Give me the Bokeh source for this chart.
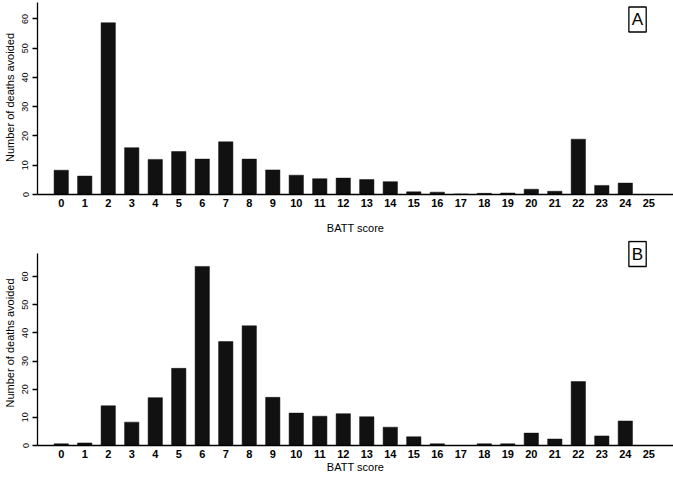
from bokeh.plotting import figure
from bokeh.layouts import column
from bokeh.models import Range1d, FixedTicker, Label
from bokeh.embed import file_html
from bokeh.resources import INLINE

scores = list(range(26))
score_labels = [str(s) for s in scores]
deaths_a = [8.3, 6.3, 58.7, 16.0, 12.0, 14.7, 12.1, 18.0, 12.1, 8.4, 6.6, 5.4, 5.6,
            5.1, 4.4, 0.9, 0.8, 0.2, 0.4, 0.5, 1.8, 1.1, 18.9, 3.1, 3.9, 0.0]
deaths_b = [0.6, 0.9, 14.1, 8.3, 17.0, 27.4, 63.6, 36.9, 42.5, 17.1, 11.5, 10.4, 11.3,
            10.2, 6.5, 3.1, 0.6, 0.0, 0.6, 0.6, 4.4, 2.3, 22.7, 3.4, 8.7, 0.0]
y_ticks = [0, 10, 20, 30, 40, 50, 60]
panel_names = ["A", "B"]

FONT = "Liberation Sans"
BAR = "#111111"


def make_panel(values, name, height, y_end, axis_top, bottom, xlabel_standoff, box_y):
    p = figure(width=673, height=height, output_backend="svg", toolbar_location=None,
               x_range=Range1d(-1.01, 26.05), y_range=Range1d(0, y_end),
               min_border_left=37, min_border_right=0, min_border_top=0,
               min_border_bottom=bottom, outline_line_color=None)
    p.vbar(x=scores, top=values, width=0.61, bottom=0, fill_color=BAR, line_color=BAR,
           line_width=0.5)
    p.xgrid.visible = False
    p.ygrid.visible = False

    xa = p.xaxis[0]
    xa.ticker = FixedTicker(ticks=scores)
    xa.major_label_overrides = {s: l for s, l in zip(scores, score_labels)}
    xa.major_tick_out = 0
    xa.major_tick_in = 0
    xa.minor_tick_out = 0
    xa.minor_tick_in = 0
    xa.axis_line_color = "black"
    xa.axis_line_width = 1.3
    xa.major_label_text_font = FONT
    xa.major_label_text_font_style = "bold"
    xa.major_label_text_font_size = "11px"
    xa.major_label_text_color = "black"
    xa.major_label_standoff = 4
    xa.axis_label = "BATT score"
    xa.axis_label_text_font = FONT
    xa.axis_label_text_font_style = "normal"
    xa.axis_label_text_font_size = "11px"
    xa.axis_label_text_color = "black"
    xa.axis_label_standoff = xlabel_standoff

    ya = p.yaxis[0]
    ya.ticker = FixedTicker(ticks=y_ticks)
    ya.bounds = (0, axis_top)
    ya.major_tick_out = 5
    ya.major_tick_in = 0
    ya.minor_tick_out = 0
    ya.minor_tick_in = 0
    ya.axis_line_color = "black"
    ya.axis_line_width = 1.3
    ya.major_tick_line_width = 1.3
    ya.major_label_orientation = "vertical"
    ya.major_label_text_font = FONT
    ya.major_label_text_font_size = "9px"
    ya.major_label_text_color = "black"
    ya.major_label_standoff = 4
    ya.axis_label = "Number of deaths avoided"
    ya.axis_label_text_font = FONT
    ya.axis_label_text_font_style = "normal"
    ya.axis_label_text_font_size = "11px"
    ya.axis_label_text_color = "black"
    ya.axis_label_standoff = 4

    lab = Label(x=24.52, y=box_y, text=name, text_font=FONT, text_font_size="17px",
                text_align="center", text_baseline="middle", text_color="black",
                border_line_color="black", border_line_width=1.3,
                background_fill_color="white", padding=3)
    p.add_layout(lab)
    return p


p1 = make_panel(deaths_a, panel_names[0], 240, 66.3, 65.6, 46, 12, 59.8)
p2 = make_panel(deaths_b, panel_names[1], 238, 72.8, 68.2, 33, 0, 68.0)

layout = column(p1, p2, spacing=0)
open("out.html", "w").write(file_html(layout, INLINE))
